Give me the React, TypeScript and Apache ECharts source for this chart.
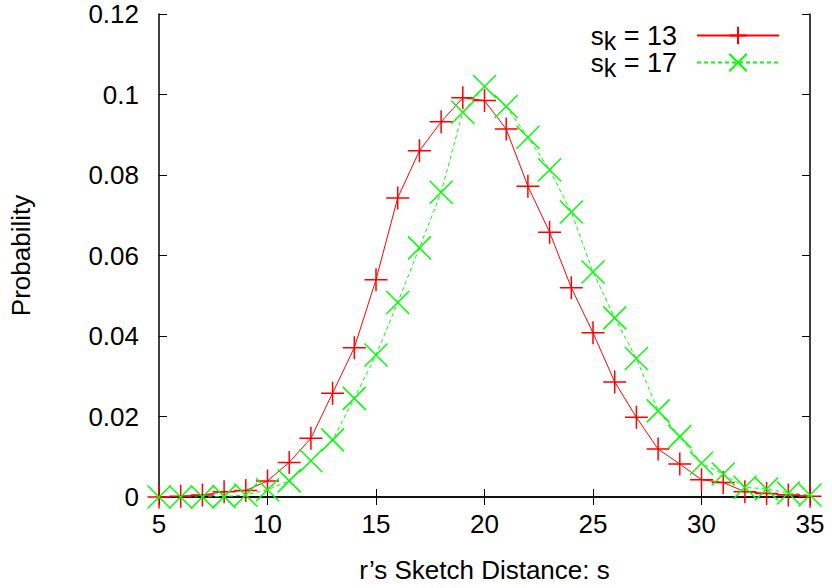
import React, { useEffect, useRef } from "react";
import * as echarts from "echarts";

const xs = [5, 6, 7, 8, 9, 10, 11, 12, 13, 14, 15, 16, 17, 18, 19, 20, 21, 22, 23, 24, 25, 26, 27, 28, 29, 30, 31, 32, 33, 34, 35];
const sk13 = [0, 0.0002, 0.0005, 0.0013, 0.0016, 0.004, 0.0086, 0.0146, 0.0258, 0.0371, 0.054, 0.0743, 0.086, 0.0932, 0.0992, 0.0985, 0.0914, 0.0772, 0.0658, 0.052, 0.0408, 0.0286, 0.0198, 0.0119, 0.0082, 0.0043, 0.0036, 0.0013, 0.0009, 0.0005, 0.0002];
const sk17 = [0, 0, 0, 0.0001, 0.0005, 0.0018, 0.004, 0.009, 0.0142, 0.0245, 0.0353, 0.0483, 0.0619, 0.0757, 0.0956, 0.102, 0.097, 0.0894, 0.0813, 0.0708, 0.0559, 0.0445, 0.0344, 0.0214, 0.015, 0.0084, 0.0057, 0.0024, 0.002, 0.001, 0.0005];
const seriesNames = ["s_k = 13", "s_k = 17"];
const xTicks = [5, 10, 15, 20, 25, 30, 35];
const yTicks = [0, 0.02, 0.04, 0.06, 0.08, 0.1, 0.12];

const FONT = "'Liberation Sans', Arial, Helvetica, sans-serif";
const PLUS = "path://M0,-10L0,10M-10,0L10,0";
const CROSS = "path://M-10,-10L10,10M-10,10L10,-10";

export default function App() {
  const ref = useRef<HTMLDivElement>(null);
  useEffect(() => {
    const chart = echarts.init(ref.current!, null, { renderer: "svg" });
    const axisCommon = {
      type: "value" as const,
      axisLine: { show: true, lineStyle: { color: "#000", width: 1.5 } },
      axisTick: { show: true, inside: true, length: 8, lineStyle: { color: "#000", width: 1 } },
      splitLine: { show: false },
    };
    chart.setOption({
      animation: false,
      backgroundColor: "#fff",
      textStyle: { fontFamily: FONT },
      grid: { left: 158, right: 22, top: 14, bottom: 90 },
      legend: {
        orient: "vertical",
        right: 52,
        top: 18,
        padding: 0,
        align: "right",
        itemWidth: 82,
        itemHeight: 22,
        itemGap: -8,
        textStyle: {
          fontFamily: FONT,
          fontSize: 26,
          color: "#000",
          rich: {
            s: { fontSize: 26, lineHeight: 25, fontFamily: FONT, color: "#000" },
            k: { fontSize: 25, lineHeight: 15, fontFamily: FONT, color: "#000", padding: [10, 0, 0, 0] },
            e: { fontSize: 27, lineHeight: 25, fontFamily: FONT, color: "#000" },
            g: { width: 15, lineHeight: 25 },
          },
        },
        formatter: (name: string) => {
          const parts = name.split(" = ");
          return "{s|s}{k|k}{e| = " + parts[1] + "}{g|}";
        },
        data: seriesNames,
      },
      xAxis: [
        {
          ...axisCommon,
          position: "bottom",
          min: 5,
          max: 35,
          interval: 5,
          axisLabel: { fontSize: 26, color: "#000", margin: 14, fontFamily: FONT, formatter: (v: number) => (xTicks.includes(v) ? String(v) : "") },
          name: "r\u2019s Sketch Distance: s",
          nameLocation: "middle",
          nameGap: 60,
          nameTextStyle: { fontSize: 26, color: "#000", fontFamily: FONT },
        },
        {
          ...axisCommon,
          position: "top",
          min: 5,
          max: 35,
          interval: 5,
          axisLabel: { show: false },
        },
      ],
      yAxis: [
        {
          ...axisCommon,
          position: "left",
          min: 0,
          max: 0.12,
          interval: 0.02,
          axisLabel: {
            fontSize: 26,
            color: "#000",
            margin: 20,
            fontFamily: FONT,
            formatter: (v: number) => {
              const t = yTicks.find((y) => Math.abs(y - v) < 1e-9);
              return t === undefined ? "" : String(Math.round(t * 100) / 100);
            },
          },
          name: "Probability",
          nameLocation: "middle",
          nameGap: 125,
          nameRotate: 90,
          nameTextStyle: { fontSize: 26, color: "#000", fontFamily: FONT },
        },
        {
          ...axisCommon,
          position: "right",
          min: 0,
          max: 0.12,
          interval: 0.02,
          axisLabel: { show: false },
        },
      ],
      series: [
        {
          name: seriesNames[0],
          type: "line",
          data: xs.map((x, i) => [x, sk13[i]]),
          symbol: PLUS,
          symbolSize: 23,
          showAllSymbol: true,
          lineStyle: { color: "#ff0000", width: 1 },
          itemStyle: { color: "#ff0000", borderColor: "#ff0000", borderWidth: 1.5 },
          emphasis: { disabled: true },
        },
        {
          name: seriesNames[1],
          type: "line",
          data: xs.map((x, i) => [x, sk17[i]]),
          symbol: CROSS,
          symbolSize: 23,
          showAllSymbol: true,
          lineStyle: { color: "#00ff00", width: 1, type: [4, 3] },
          itemStyle: { color: "#00ff00", borderColor: "#00ff00", borderWidth: 1.5 },
          emphasis: { disabled: true },
        },
      ],
    });
    return () => chart.dispose();
  }, []);
  return <div ref={ref} style={{ width: 832, height: 588, position: "absolute", left: 0, top: 0 }} />;
}
